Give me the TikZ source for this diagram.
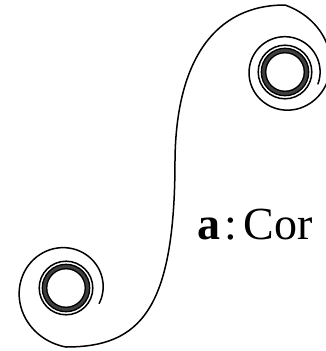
\documentclass[tikz,border=0pt]{standalone}
\usepackage{fontspec}
\setmainfont{Liberation Serif}
\usepackage{tikz}

\begin{document}
\begin{tikzpicture}[x=1pt, y=-1pt,
    declare function={rhi(\t)=35+32*exp(-(470-\t)/77);
                      rlo(\t)=34+25*exp(-(\t-90)/130);}]
  \tikzstyle{curl}=[line width=1.5pt, line cap=round]
  \tikzstyle{eyering}=[line width=1.3pt]
  \tikzstyle{eyefill}=[line width=5pt, black!75]
  \tikzstyle{labeltext}=[inner sep=0pt, anchor=base west,
    font=\fontsize{46}{48}\selectfont]
  \useasboundingbox (0,0) rectangle (326,351);
  \coordinate (hi) at (285,72);
  \coordinate (lo) at (66,288);
  \coordinate (mid) at (175,160);
  \coordinate (foot) at (66,347);
  % the S line, curled up at both ends
  \draw[curl] plot[domain=0:470, samples=140]
      ({285+rhi(\x)*cos(740-\x)}, {72+rhi(\x)*sin(740-\x)})
    .. controls (215,5) and (176,60) .. (mid)
    .. controls (175,310) and (140,347) .. (foot)
    -- plot[domain=90:385, samples=120]
      ({66+rlo(\x)*cos(\x)}, {288+rlo(\x)*sin(\x)});
  \foreach \c in {hi,lo} {
    \draw[eyefill] (\c) circle (21.5pt);
    \draw[eyering] (\c) circle (19.3pt) (\c) circle (23.7pt);
    \draw[eyering, line width=1.5pt] (\c) circle (26.8pt);
  }
  \node[labeltext] (lbl) at (197,239) {\textbf{a}\hspace{4.5pt}:\hspace{6.5pt}Cor};
\end{tikzpicture}
\end{document}
